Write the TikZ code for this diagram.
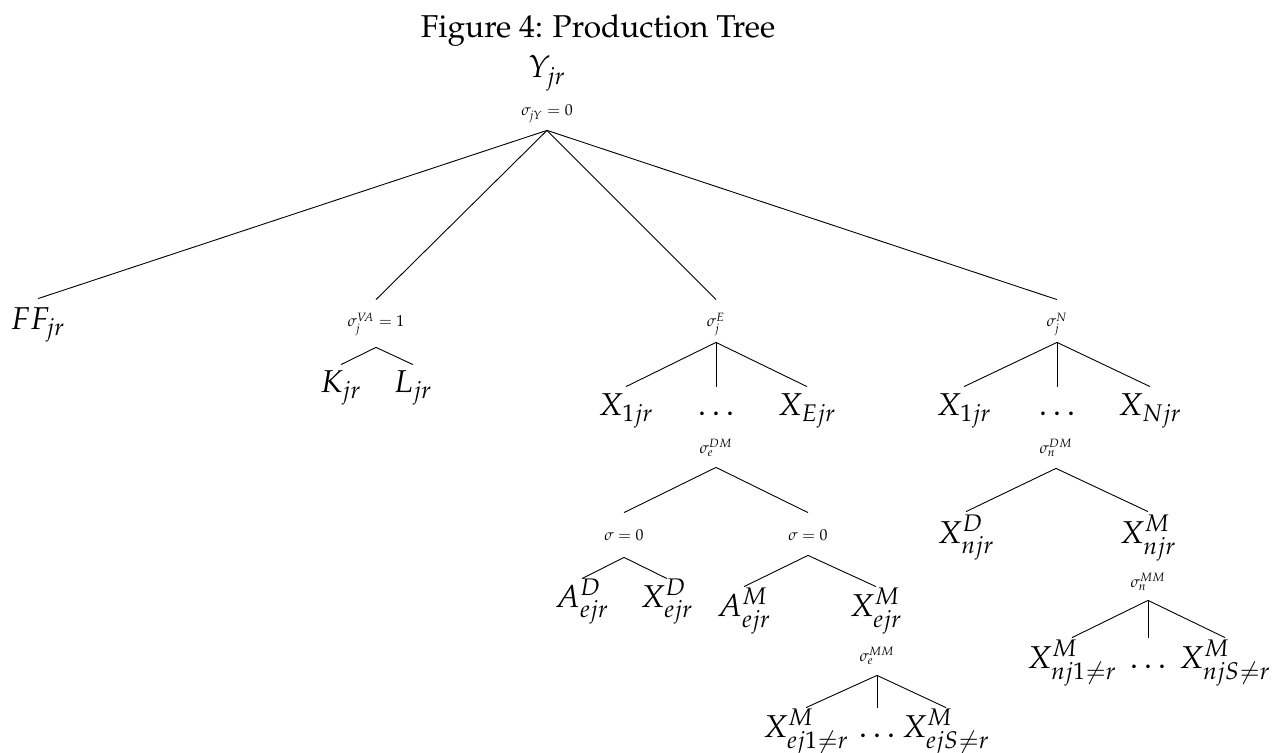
\documentclass[tikz,border=0pt]{standalone}
\usepackage[T1]{fontenc}
\usepackage{mathpazo}
\tikzset{
  big/.style={inner sep=0pt, anchor=base, font=\fontsize{15.8}{19}\selectfont},
  sml/.style={inner sep=0pt, anchor=base, font=\fontsize{7.9}{9.5}\selectfont},
  br/.style={line width=0.45pt},
}
\begin{document}
\begin{tikzpicture}[x=0.5pt,y=-0.5pt]
\useasboundingbox (0,0) rectangle (1272,753);
\node[big] (title) at (598,38) {Figure 4: Production Tree};
\node[big] (Y) at (547,78) {$Y_{jr}$};
\node[sml, text depth=7pt] (sY) at (547,116) {$\sigma_{jY}=0$};
\node[big, text height=15pt] (FF) at (38,329) {$FF_{jr}$};
\node[sml, text height=13.5pt, text depth=10pt] (sVA) at (376,327) {$\sigma_j^{VA}=1$};
\node[big, text height=13.5pt] (K) at (341,392) {$K_{jr}$};
\node[big, text height=13.5pt] (L) at (413,392) {$L_{jr}$};
\node[sml, text height=13.5pt, text depth=7.5pt] (sE) at (716,327) {$\sigma_j^{E}$};
\node[big, text height=14pt] (X1E) at (626,415) {$X_{1jr}$};
\node[big, text height=14pt] (dE) at (716,415) {$\ldots$};
\node[big, text height=14pt] (XE) at (807,415) {$X_{Ejr}$};
\node[sml, text height=13.5pt, text depth=7.5pt] (sN) at (1057,327) {$\sigma_j^{N}$};
\node[big, text height=14pt] (X1N) at (964,415) {$X_{1jr}$};
\node[big, text height=14pt] (dN) at (1057,415) {$\ldots$};
\node[big, text height=14pt] (XN) at (1150,415) {$X_{Njr}$};
\node[sml, text depth=7pt] (sDMe) at (716,453) {$\sigma_e^{DM}$};
\node[sml, text height=13.5pt, text depth=8.5pt] (s0a) at (624,540) {$\sigma=0$};
\node[sml, text height=13.5pt, text depth=7.5pt] (s0b) at (808,540) {$\sigma=0$};
\node[big, text height=14pt] (AD) at (582,607) {$A^D_{ejr}$};
\node[big, text height=14pt] (XD) at (667,607) {$X^D_{ejr}$};
\node[big, text height=14.5pt] (AM) at (744,616) {$A^M_{ejr}$};
\node[big, text height=14.5pt] (XM) at (876,616) {$X^M_{ejr}$};
\node[sml, text depth=7pt] (sMMe) at (877,661) {$\sigma_e^{MM}$};
\node[big, text height=14.5pt] (Xe1) at (806,737) {$X^M_{ej1\neq r}$};
\node[big, text height=14.5pt] (de) at (877,737) {$\ldots$};
\node[big, text height=14.5pt] (XeS) at (946,737) {$X^M_{ejS\neq r}$};
\node[sml, text depth=7.5pt] (sDMn) at (1056,453) {$\sigma_n^{DM}$};
\node[big, text height=15.5pt] (XDn) at (966,543) {$X^D_{njr}$};
\node[big, text height=15.5pt] (XMn) at (1148,543) {$X^M_{njr}$};
\node[sml, text depth=6.5pt] (sMMn) at (1148,587) {$\sigma_n^{MM}$};
\node[big, text height=15pt] (Xn1) at (1072,668) {$X^M_{nj1\neq r}$};
\node[big, text height=15pt] (dn) at (1148,668) {$\ldots$};
\node[big, text height=15pt] (XnS) at (1225,668) {$X^M_{njS\neq r}$};
\foreach \c in {FF,sVA,sE,sN} \draw[br] (sY.south) -- (\c.north);
\foreach \c in {K,L} \draw[br] (sVA.south) -- (\c.north);
\foreach \c in {X1E,dE,XE} \draw[br] (sE.south) -- (\c.north);
\foreach \c in {X1N,dN,XN} \draw[br] (sN.south) -- (\c.north);
\foreach \c in {s0a,s0b} \draw[br] (sDMe.south) -- (\c.north);
\foreach \c in {AD,XD} \draw[br] (s0a.south) -- (\c.north);
\foreach \c in {AM,XM} \draw[br] (s0b.south) -- (\c.north);
\foreach \c in {Xe1,de,XeS} \draw[br] (sMMe.south) -- (\c.north);
\foreach \c in {XDn,XMn} \draw[br] (sDMn.south) -- (\c.north);
\foreach \c in {Xn1,dn,XnS} \draw[br] (sMMn.south) -- (\c.north);
\end{tikzpicture}
\end{document}
